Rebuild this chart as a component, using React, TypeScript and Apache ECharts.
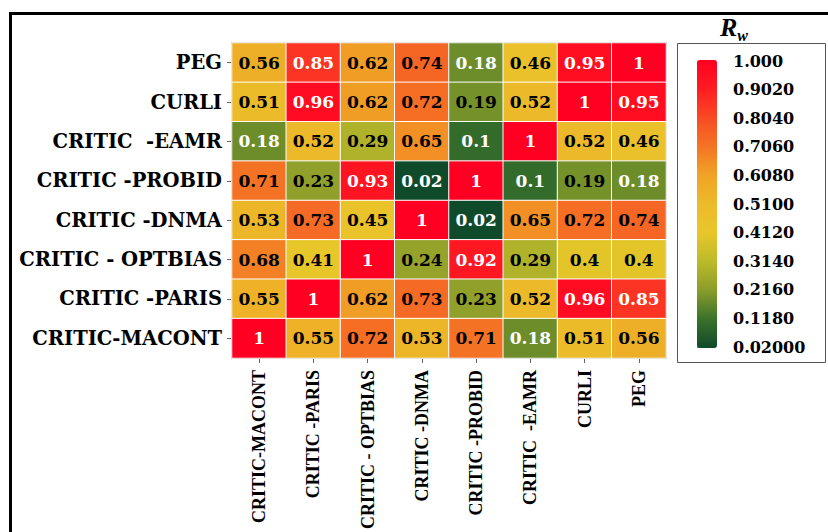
import React, { useEffect, useRef } from "react";
import * as echarts from "echarts";

// Column categories (left → right)
const colLabels = [
  "CRITIC-MACONT",
  "CRITIC -PARIS",
  "CRITIC - OPTBIAS",
  "CRITIC -DNMA",
  "CRITIC -PROBID",
  "CRITIC  -EAMR",
  "CURLI",
  "PEG",
];

// Row categories (top → bottom)
const rowLabels = [
  "PEG",
  "CURLI",
  "CRITIC  -EAMR",
  "CRITIC -PROBID",
  "CRITIC -DNMA",
  "CRITIC - OPTBIAS",
  "CRITIC -PARIS",
  "CRITIC-MACONT",
];

// Rw values, one array per row (top → bottom), columns in colLabels order
const rowPEG = [0.56, 0.85, 0.62, 0.74, 0.18, 0.46, 0.95, 1];
const rowCURLI = [0.51, 0.96, 0.62, 0.72, 0.19, 0.52, 1, 0.95];
const rowEAMR = [0.18, 0.52, 0.29, 0.65, 0.1, 1, 0.52, 0.46];
const rowPROBID = [0.71, 0.23, 0.93, 0.02, 1, 0.1, 0.19, 0.18];
const rowDNMA = [0.53, 0.73, 0.45, 1, 0.02, 0.65, 0.72, 0.74];
const rowOPTBIAS = [0.68, 0.41, 1, 0.24, 0.92, 0.29, 0.4, 0.4];
const rowPARIS = [0.55, 1, 0.62, 0.73, 0.23, 0.52, 0.96, 0.85];
const rowMACONT = [1, 0.55, 0.72, 0.53, 0.71, 0.18, 0.51, 0.56];

const rows = [rowPEG, rowCURLI, rowEAMR, rowPROBID, rowDNMA, rowOPTBIAS, rowPARIS, rowMACONT];

// Colour bar scale
const scaleMin = 0.02;
const scaleMax = 1.0;
const colorbarTicks = [
  "0.02000", "0.1180", "0.2160", "0.3140", "0.4120", "0.5100",
  "0.6080", "0.7060", "0.8040", "0.9020", "1.000",
];

// Green → yellow → orange → red ramp, evenly spaced over [scaleMin, scaleMax]
const ramp = [
  "#0f4a2a", "#3a722a", "#8a9c2a", "#bcba2a", "#e8c62a", "#ecbb2a",
  "#f0a326", "#f47424", "#f84a24", "#ff1c22", "#ff0022",
];

const SERIF_BOLD = "DejaVu Serif";
const TIMES = "Liberation Serif";

export default function App() {
  const ref = useRef<HTMLDivElement>(null);

  useEffect(() => {
    if (!ref.current) return;
    const chart = echarts.init(ref.current, null, { renderer: "svg" });

    const n = rowLabels.length;
    const yCats = [...rowLabels].reverse();
    const data: any[] = [];
    rows.forEach((vals, r) => {
      vals.forEach((v, c) => {
        const light = v > 0.8 || v < 0.185;
        data.push({
          value: [c, n - 1 - r, v],
          label: { color: light ? "#ffffff" : "#000000" },
        });
      });
    });

    chart.setOption({
      animation: false,
      backgroundColor: "#ffffff",
      grid: [
        {
          left: 232,
          top: 43,
          width: 434,
          height: 319,
          show: true,
          borderColor: "#777777",
          borderWidth: 1.5,
          backgroundColor: "transparent",
        },
        {
          left: 697,
          top: 61,
          width: 20,
          height: 286,
          show: false,
        },
      ],
      xAxis: [
        {
          type: "category",
          gridIndex: 0,
          data: colLabels,
          axisLine: { show: false },
          axisTick: { show: true, alignWithLabel: true, length: 5, lineStyle: { color: "#666666", width: 1 } },
          axisLabel: {
            rotate: 90,
            margin: 12,
            interval: 0,
            fontFamily: TIMES,
            fontWeight: "bold",
            fontSize: 18,
            color: "#000000",
          },
          splitLine: { show: false },
        },
        {
          type: "value",
          gridIndex: 1,
          show: false,
          min: 0,
          max: 1,
        },
      ],
      yAxis: [
        {
          type: "category",
          gridIndex: 0,
          data: yCats,
          axisLine: { show: false },
          axisTick: { show: true, alignWithLabel: true, length: 5, lineStyle: { color: "#666666", width: 1 } },
          axisLabel: {
            margin: 10,
            interval: 0,
            fontFamily: SERIF_BOLD,
            fontWeight: "bold",
            fontSize: 19.5,
            color: "#000000",
          },
          splitLine: { show: false },
        },
        {
          type: "value",
          gridIndex: 1,
          position: "right",
          min: 0,
          max: colorbarTicks.length - 1,
          interval: 1,
          axisLine: { show: false },
          axisTick: { show: true, length: 4, lineStyle: { color: "#666666", width: 1 } },
          axisLabel: {
            margin: 16,
            formatter: (v: number) => colorbarTicks[Math.round(v)] ?? "",
            fontFamily: SERIF_BOLD,
            fontWeight: "bold",
            fontSize: 16,
            color: "#000000",
          },
          splitLine: { show: false },
        },
      ],
      visualMap: {
        type: "continuous",
        min: scaleMin,
        max: scaleMax,
        seriesIndex: 0,
        calculable: false,
        hoverLink: false,
        left: 697,
        top: 60,
        itemWidth: 20,
        itemHeight: 288,
        padding: 0,
        text: ["", ""],
        textGap: 0,
        inRange: { color: ramp },
      },
      graphic: [
        {
          type: "rect",
          silent: true,
          shape: { x: 10.5, y: 13.5, width: 830, height: 530 },
          style: { fill: "none", stroke: "#000000", lineWidth: 3 },
        },
        {
          type: "rect",
          silent: true,
          shape: { x: 677.5, y: 43.5, width: 148, height: 319 },
          style: { fill: "none", stroke: "#555555", lineWidth: 1 },
        },
        {
          type: "text",
          silent: true,
          x: 720,
          y: 14,
          style: {
            text: "{r|R}{w|w}",
            rich: {
              r: { fontFamily: TIMES, fontStyle: "italic", fontWeight: "bold", fontSize: 26, color: "#000", verticalAlign: "top" },
              w: { fontFamily: TIMES, fontStyle: "italic", fontWeight: "bold", fontSize: 16, color: "#000", padding: [13, 0, 0, 0] },
            },
          },
        },
      ],
      series: [
        {
          type: "heatmap",
          xAxisIndex: 0,
          yAxisIndex: 0,
          data,
          itemStyle: { borderColor: "#ffffff", borderWidth: 1 },
          label: {
            show: true,
            formatter: (p: any) => String(p.value[2]),
            fontFamily: SERIF_BOLD,
            fontWeight: "bold",
            fontSize: 17,
          },
          emphasis: { disabled: true },
        },
      ],
    });

    return () => chart.dispose();
  }, []);

  return (
    <div
      ref={ref}
      style={{ position: "fixed", left: 0, top: 0, width: 828, height: 532, background: "#fff" }}
    />
  );
}
